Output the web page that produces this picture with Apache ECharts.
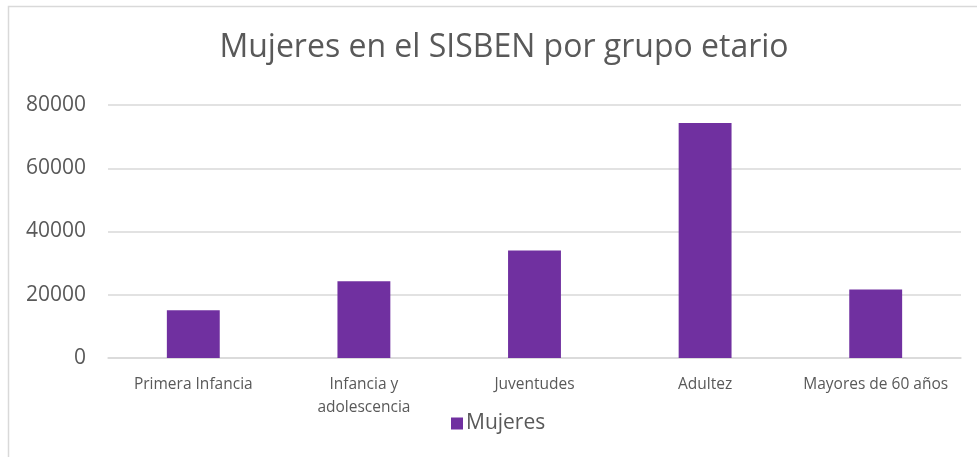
<!DOCTYPE html>
<html>
<head>
<meta charset="utf-8">
<script src="https://cdn.jsdelivr.net/npm/echarts@6/dist/echarts.min.js"></script>
<style>
  html, body { margin: 0; padding: 0; background: #fff; }
  #chart { width: 977px; height: 457px; }
</style>
</head>
<body>
<div id="chart"></div>
<script>
/* datos */
const categories = ['Primera Infancia', 'Infancia y\nadolescencia', 'Juventudes', 'Adultez', 'Mayores de 60 años']
const mujeres = [15100, 24250, 34000, 74300, 21650]
const yTicks = { min: 0, max: 80000, interval: 20000 }

const INK = '#595959'
const GRID = '#D9D9D9'
const PURPLE = '#7030A0'
const FONT = '"Open Sans", "Liberation Sans", sans-serif'

const chart = echarts.init(document.getElementById('chart'), null, { renderer: 'canvas' })
chart.setOption({
  animation: false,
  textStyle: { fontFamily: FONT },
  graphic: [{
    type: 'rect', silent: true,
    shape: { x: 8.5, y: 6.5, width: 1000, height: 500 },
    style: { fill: null, stroke: GRID, lineWidth: 1.5 },
  }],
  title: {
    text: 'Mujeres en el SISBEN por grupo etario',
    left: 499, textAlign: 'center', top: 27,
    textStyle: { color: INK, fontSize: 32, fontWeight: 'normal', fontFamily: FONT },
  },
  legend: {
    data: ['Mujeres'], left: 446, top: 408,
    itemWidth: 12, itemHeight: 12, itemGap: 4,
    icon: 'rect',
    textStyle: { color: INK, fontSize: 21, fontFamily: FONT, padding: [0, 0, 0, -2] },
  },
  grid: { left: 108, right: 16, top: 105, bottom: 99 },
  xAxis: {
    type: 'category', data: categories,
    axisLine: { lineStyle: { color: GRID, width: 1.5 } },
    axisTick: { show: false },
    axisLabel: { color: INK, fontSize: 15.5, margin: 15, lineHeight: 23, interval: 0, fontFamily: FONT },
  },
  yAxis: {
    type: 'value', ...yTicks,
    axisLine: { show: false }, axisTick: { show: false },
    axisLabel: { color: INK, fontSize: 21, margin: 22, fontFamily: FONT, formatter: v => String(v) },
    splitLine: { lineStyle: { color: GRID, width: 1.5 } },
  },
  series: [{
    name: 'Mujeres', type: 'bar', data: mujeres,
    barWidth: '31%',
    itemStyle: { color: PURPLE },
  }],
})
</script>
</body>
</html>
